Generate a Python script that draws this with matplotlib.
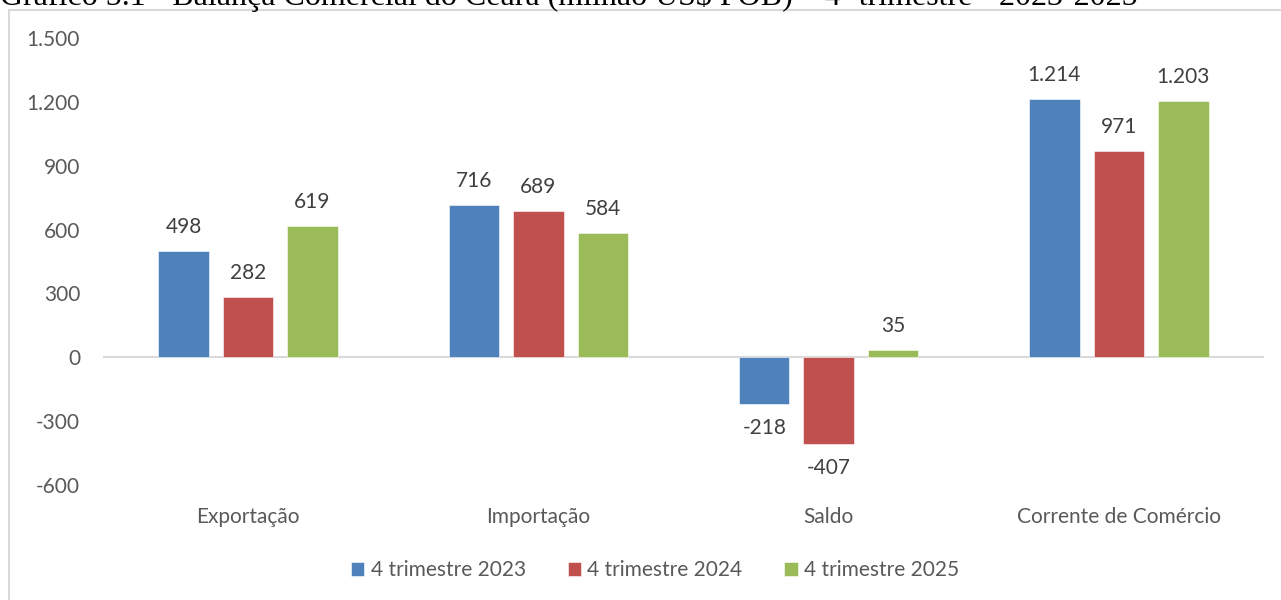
import matplotlib
matplotlib.use("Agg")
import matplotlib.pyplot as plt
import matplotlib.transforms as mtransforms
from matplotlib.patches import Rectangle
import numpy as np

categories = ["Exportação", "Importação", "Saldo", "Corrente de Comércio"]
series_names = ["4 trimestre 2023", "4 trimestre 2024", "4 trimestre 2025"]
v2023 = [498, 716, -218, 1214]
v2024 = [282, 689, -407, 971]
v2025 = [619, 584, 35, 1203]
colors = ["#4F81BD", "#C0504D", "#9BBB59"]
yticks = [-600, -300, 0, 300, 600, 900, 1200, 1500]
title = "Gráfico 5.1 - Balança Comercial do Ceará (milhão US$ FOB) – 4º trimestre - 2023-2025"

plt.rcParams['font.family'] = ['Lato', 'DejaVu Sans']

W, H = 1281, 600
fig = plt.figure(figsize=(W / 100, H / 100), dpi=100)

def fx(px):
    return px / W

def fy(py):
    return 1 - py / H

# chart frame
fig.patches.append(Rectangle((fx(9), fy(700)), fx(1400), fy(10) - fy(700),
                             transform=fig.transFigure, fill=False,
                             edgecolor="#D9D9D9", linewidth=1.5))
# title (partly cut off at the top, as in the source)
fig.text(0.0, fy(5), title, family="Liberation Serif", fontsize=23,
         ha="left", va="baseline", color="#000000")

ax = fig.add_axes([fx(103), fy(485), fx(1264) - fx(103), fy(38) - fy(485)])
x = np.arange(len(categories))
width = 0.174
step = 0.222
fmt = lambda v: f"{v:,}".replace(",", ".")
FS = 15
for i, (vals, name, c) in enumerate(zip([v2023, v2024, v2025], series_names, colors)):
    pos = x + (i - 1) * step
    ax.bar(pos, vals, width, color=c, label=name, edgecolor="white", linewidth=0.4)
    for p, v in zip(pos, vals):
        if v >= 0:
            ax.annotate(fmt(v), (p, v), xytext=(0, 10), textcoords="offset points",
                        ha="center", va="bottom", fontsize=FS, color="#404040")
        else:
            ax.annotate(fmt(v), (p, v), xytext=(0, -10), textcoords="offset points",
                        ha="center", va="top", fontsize=FS, color="#404040")

ax.set_xlim(-0.5, len(categories) - 0.5)
ax.set_ylim(-600, 1500)
ax.set_yticks(yticks)
ax.set_yticklabels([fmt(t) for t in yticks], fontsize=FS, color="#595959")
ax.tick_params(axis="y", length=0, pad=16.5)
ax.tick_params(axis="x", length=0)
ax.set_xticks([])
for s in ax.spines.values():
    s.set_visible(False)
ax.axhline(0, color="#D9D9D9", linewidth=1.5, zorder=0)

trans = mtransforms.blended_transform_factory(ax.transData, fig.transFigure)
for xi, cat in zip(x, categories):
    ax.text(xi, fy(517), cat, transform=trans,
            ha="center", va="center", fontsize=FS, color="#595959")

leg = fig.legend(loc="center", bbox_to_anchor=(fx(655), fy(570)), ncol=3, frameon=False,
                 fontsize=FS, handlelength=0.65, handleheight=0.65, handletextpad=0.3,
                 columnspacing=2.0)
for t in leg.get_texts():
    t.set_color("#595959")

fig.savefig("out.png", dpi=100)
